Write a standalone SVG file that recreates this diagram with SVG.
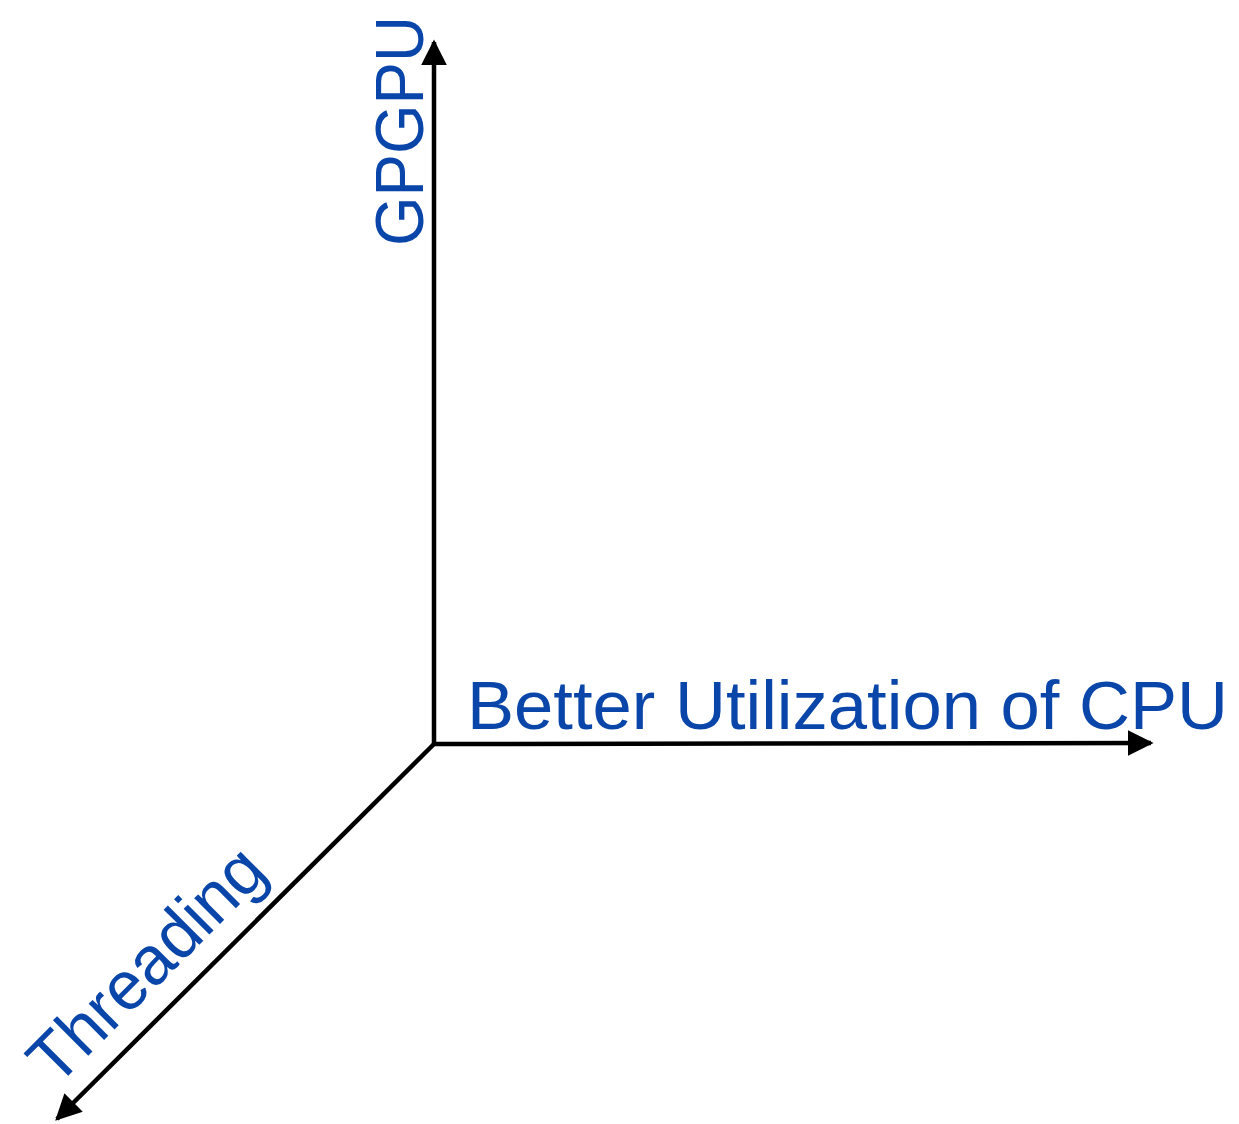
<svg xmlns="http://www.w3.org/2000/svg" width="1239" height="1124" viewBox="0 0 1239 1124">
<style>
.axis{stroke:#000;stroke-width:4.5;fill:none}
.lbl{fill:#0a46a9;font-family:"Liberation Sans",Arial,sans-serif;font-size:69px}
</style>
<defs>
<marker id="ah" viewBox="0 0 10 10" refX="9" refY="5" markerWidth="26" markerHeight="26" markerUnits="userSpaceOnUse" orient="auto"><path d="M0,0 L10,5 L0,10 Z" fill="#000"/></marker>
</defs>
<rect width="1239" height="1124" fill="#fff"/>
<g id="connectors">
<line class="axis" x1="434" y1="745" x2="434" y2="42" marker-end="url(#ah)"/>
<line class="axis" x1="432" y1="744" x2="1151" y2="743" marker-end="url(#ah)"/>
<line class="axis" x1="434" y1="744" x2="57" y2="1119" marker-end="url(#ah)"/>
</g>
<g id="gpgpu"><text class="lbl" transform="translate(423,246) rotate(-90)" textLength="230" lengthAdjust="spacingAndGlyphs">GPGPU</text></g>
<g id="better"><text class="lbl" x="467" y="729" textLength="761" lengthAdjust="spacingAndGlyphs">Better Utilization of CPU</text></g>
<g id="threading"><text class="lbl" transform="translate(56,1088) rotate(-45)" textLength="302" lengthAdjust="spacingAndGlyphs">Threading</text></g>
</svg>
